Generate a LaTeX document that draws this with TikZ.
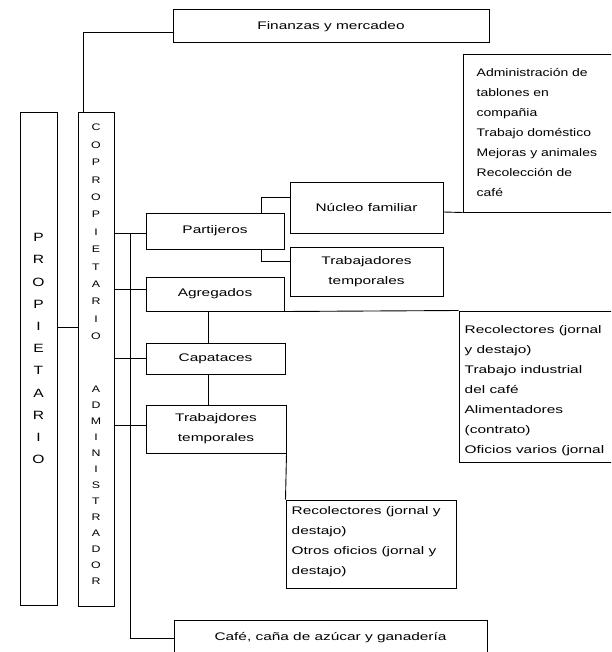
\documentclass[tikz,border=0pt]{standalone}
\usepackage{fontspec}
\setmainfont{Liberation Sans}
\newfontfamily\tf[FakeStretch=1.4]{Liberation Sans}
\newfontfamily\tfn[FakeStretch=1.27]{Liberation Sans}
\newfontfamily\tfv[FakeStretch=1.3]{Liberation Sans}
\usetikzlibrary{calc}
\begin{document}
\begin{tikzpicture}[x=1pt,y=-1pt,
  box/.style={draw, line width=1pt, inner sep=0pt, font={\tf\fontsize{11}{20}\selectfont}, align=center},
  txt/.style={inner sep=0pt, font={\tf\fontsize{11}{20}\selectfont}, align=left, anchor=north west},
  vtxt/.style={inner sep=0pt, align=center, anchor=north},
  link/.style={line width=0.9pt}]
\useasboundingbox (0,0) rectangle (611,652);
\fill[white] (0,0) rectangle (611,652);
\clip (0,0) rectangle (611,652);
% boxes
\node[box, minimum width=316pt, minimum height=33pt] (fin) at (331,26.5) {Finanzas y mercadeo};
\node[box, minimum width=37pt, minimum height=492pt] (prop) at (38.5,359) {};
\node[box, minimum width=36pt, minimum height=493pt] (coprop) at (96,359.5) {};
\node[box, minimum width=138pt, minimum height=36pt] (part) at (215,231) {Partijeros};
\node[box, minimum width=138pt, minimum height=34pt] (agr) at (215,294) {Agregados};
\node[box, minimum width=139pt, minimum height=31pt] (cap) at (215.5,358.5) {Capataces};
\node[box, minimum width=140pt, minimum height=48pt] (trab) at (216,429) {Trabajdores\\temporales};
\node[box, minimum width=153pt, minimum height=50pt] (nuc) at (366.5,208) {Núcleo familiar};
\node[box, minimum width=153pt, minimum height=49pt] (ttemp) at (366.5,271.5) {Trabajadores\\temporales};
\node[box, minimum width=177pt, minimum height=157pt] (adm) at (551.5,133.5) {};
\node[box, minimum width=181pt, minimum height=151pt] (rec) at (549.5,386.5) {};
\node[box, minimum width=170pt, minimum height=88pt] (rec2) at (371,544) {};
\node[box, minimum width=313pt, minimum height=36pt] (cafe) at (330.5,638) {Café, caña de azúcar y ganadería};
% texts in the boxes
\node[txt, font={\tfn\fontsize{11}{20}\selectfont}] (admt) at ($(adm.north west)+(14,14)$) {Administración de\\tablones en\\compañia\\Trabajo doméstico\\Mejoras y animales\\Recolección de\\café};
\node[txt] (rect) at ($(rec.north west)+(6,15)$) {Recolectores (jornal\\y destajo)\\Trabajo industrial\\del café\\Alimentadores\\(contrato)\\Oficios varios (jornal};
\node[txt] (rec2t) at ($(rec2.north west)+(6,7)$) {Recolectores (jornal y\\destajo)\\Otros oficios (jornal y\\destajo)};
\node[vtxt, font={\tfv\fontsize{12}{22.2}\selectfont}] (propt) at ($(prop.north)+(0,120.7)$) {P\\R\\O\\P\\I\\E\\T\\A\\R\\I\\O};
\node[vtxt, font={\tfv\fontsize{9.5}{17.4}\selectfont}] (copt) at ($(coprop.north)+(0,11.6)$) {C\\O\\P\\R\\O\\P\\I\\E\\T\\A\\R\\I\\O};
\node[vtxt, font={\tfv\fontsize{9.5}{16}\selectfont}] (admint) at ($(coprop.north)+(0,273.6)$) {A\\D\\M\\I\\N\\I\\S\\T\\R\\A\\D\\O\\R};
% connectors
\draw[link] ([yshift=-5.5pt]fin.west) -| ([xshift=-13pt]coprop.north);
\draw[link] ([yshift=32pt]prop.east) -- ([yshift=32pt]prop.east -| coprop.west);
\coordinate (pw) at ([yshift=-2pt]part.west);
\coordinate (bus) at ($(coprop.east)!0.5!(part.west)$);
\draw[link] (pw) -- (pw -| coprop.east);
\draw[link] ([yshift=5pt]agr.west) -- ([yshift=5pt]agr.west -| coprop.east);
\draw[link] (cap.west) -- (cap.west -| coprop.east);
\draw[link] ([yshift=4pt]trab.west) -- ([yshift=4pt]trab.west -| coprop.east);
\draw[link] (bus |- pw) -- (bus |- cafe.west) -- (cafe.west);
\draw[link] ([xshift=46pt]part.north) |- ([yshift=11pt]nuc.west);
\draw[link] ([xshift=46pt]part.south) |- ([yshift=10.5pt]ttemp.west);
\draw[link] ([yshift=-4pt]nuc.east) -- (adm.south west);
\draw[link] (agr.south east) -- (rec.north west);
\draw[link] ([xshift=-7pt]agr.south) -- ([xshift=-7pt]agr.south |- cap.north);
\draw[link] ([xshift=-7pt]agr.south |- cap.south) -- ([xshift=-7pt]agr.south |- trab.north);
\draw[link] (trab.south east) -- (rec2.north west);
\end{tikzpicture}
\end{document}
